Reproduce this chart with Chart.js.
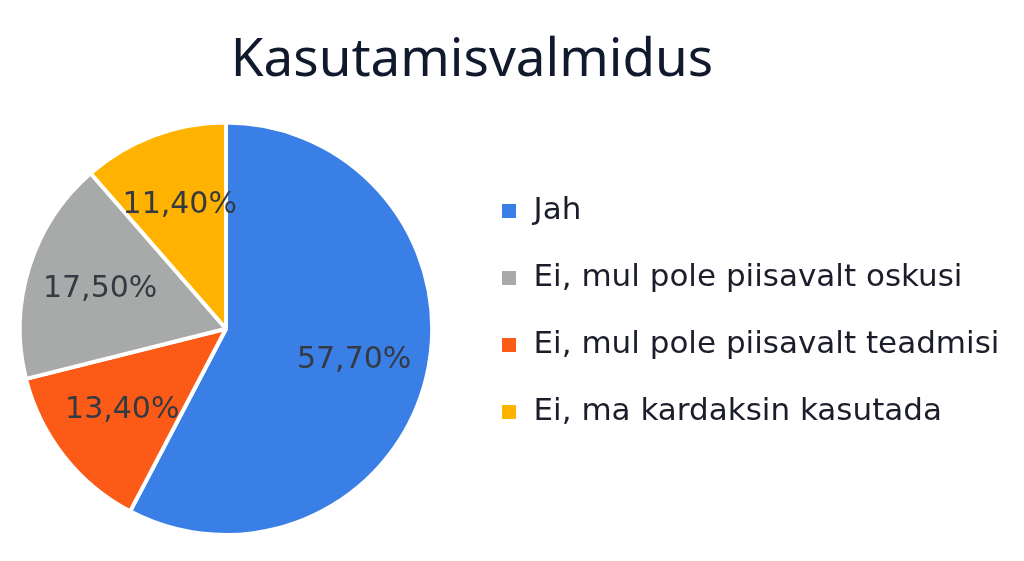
<!DOCTYPE html>
<html>
<head>
<meta charset="utf-8">
<script src="https://cdn.jsdelivr.net/npm/chart.js@4.4.1/dist/chart.umd.min.js"></script>
<style>
html, body { margin: 0; padding: 0; background: #fff; overflow: hidden; }
/* canvas is a bit wider than the window and pulled left so the pie sits near the edge */
#wrap { width: 1036px; height: 561px; margin-left: -12px; }
</style>
</head>
<body>
<div id="wrap"><canvas id="pieChart"></canvas></div>
<script>
const chartTitle = 'Kasutamisvalmidus';
const categories = ['Jah', 'Ei, mul pole piisavalt teadmisi', 'Ei, mul pole piisavalt oskusi', 'Ei, ma kardaksin kasutada'];
const shares = [57.7, 13.4, 17.5, 11.4];
const sliceColors = ['#3a7fe6', '#fb5a17', '#a7aaa8', '#ffb300'];
// legend lists the categories in a different order than the slices go round
const legendOrder = ['Jah', 'Ei, mul pole piisavalt oskusi', 'Ei, mul pole piisavalt teadmisi', 'Ei, ma kardaksin kasutada'];

const sliceLabels = {
    id: 'sliceLabels',
    afterLayout(chart) {
        // let the long legend lines run past the legend box instead of being clipped
        const lg = chart.legend;
        lg.right = chart.width;
        lg.width = lg.right - lg.left;
    },
    afterDatasetsDraw(chart) {
        const ctx = chart.ctx;
        const meta = chart.getDatasetMeta(0);
        ctx.save();
        ctx.font = '30px "DejaVu Sans"';
        ctx.fillStyle = '#353a42';
        ctx.textAlign = 'center';
        ctx.textBaseline = 'middle';
        meta.data.forEach((arc, i) => {
            const p = arc.getProps(['x', 'y', 'startAngle', 'endAngle', 'outerRadius'], true);
            const mid = (p.startAngle + p.endAngle) / 2;
            const r = p.outerRadius * 0.64;
            const text = shares[i].toFixed(2).replace('.', ',') + '%';
            ctx.fillText(text, p.x + Math.cos(mid) * r, p.y + Math.sin(mid) * r);
        });
        ctx.restore();
    }
};

new Chart(document.getElementById('pieChart'), {
    type: 'pie',
    data: {
        labels: categories,
        datasets: [{
            data: shares,
            backgroundColor: sliceColors,
            borderColor: '#ffffff',
            borderWidth: 4,
            hoverOffset: 0
        }]
    },
    options: {
        responsive: true,
        maintainAspectRatio: false,
        animation: false,
        layout: {
            padding: { left: 0, right: 68, top: 0, bottom: 24 }
        },
        plugins: {
            title: {
                display: true,
                text: chartTitle,
                color: '#111a2c',
                font: { family: 'Noto Sans', size: 53, weight: 'normal' },
                padding: { top: 29, bottom: 28 }
            },
            legend: {
                position: 'right',
                align: 'start',
                maxWidth: 492,
                // empty title only pushes the items down
                title: { display: true, text: '', padding: { top: 145.1, bottom: 0 } },
                labels: {
                    boxWidth: 18,
                    boxHeight: 18,
                    padding: 36,
                    color: '#1b1d2b',
                    font: { family: 'DejaVu Sans', size: 31 },
                    sort: (a, b) => legendOrder.indexOf(a.text) - legendOrder.indexOf(b.text)
                }
            },
            tooltip: { enabled: false }
        }
    },
    plugins: [sliceLabels]
});
</script>
</body>
</html>
